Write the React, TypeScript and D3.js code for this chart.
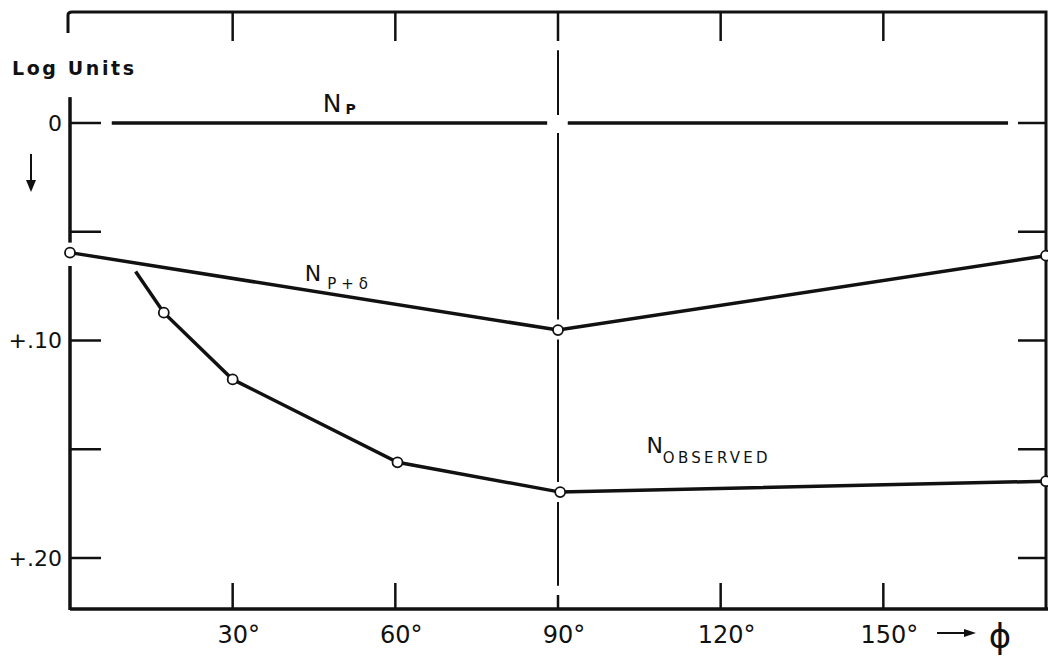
import React from 'react'
import { scaleLinear, line } from 'd3'

// Data (phi in degrees, log units)
const xTicks = [30, 60, 90, 120, 150]
const xTickLabels = ['30°', '60°', '90°', '120°', '150°']
const yTicks = [0, 0.05, 0.1, 0.15, 0.2]
const yTickLabels = ['0', '', '+.10', '', '+.20']

const npValue = 0
const npSegments = [[7.7, 88], [91.8, 173]]

const npdAngles = [0, 90, 180]
const npdValues = [0.0596, 0.0952, 0.061]

const obsAngles = [12.1, 17.3, 30, 60.4, 90.4, 180]
const obsValues = [0.0683, 0.0872, 0.1179, 0.156, 0.1697, 0.1647]
const obsMarked = [false, true, true, true, true, true]

// the broken vertical line at 90 degrees
const dashAngle = 90
const dashSegments = [[-0.0335, -0.0037], [0.0046, 0.0904], [0.0995, 0.1651], [0.1743, 0.2128]]

// left axis is interrupted by the title and by the first circle
const leftAxisSegments = [[-0.0119, 0.055], [0.0657, 0.2225]]

const W = 1048
const H = 659
const top = 12
const bottom = 609
const font = '"DejaVu Sans", sans-serif'

const App = () => {
    const x = scaleLinear().domain([0, 180]).range([70, 1046])
    const y = scaleLinear().domain([0, 0.2]).range([123, 558])

    const lineGen = line<[number, number]>()
        .x(d => x(d[0]))
        .y(d => y(d[1]))

    const npd: [number, number][] = npdAngles.map((a, i) => [a, npdValues[i]])
    const obs: [number, number][] = obsAngles.map((a, i) => [a, obsValues[i]])

    const stroke = '#111'

    return (
        <svg width={W} height={H} style={{ position: 'absolute', left: 0, top: 0, background: '#fff' }}>
            {/* frame */}
            <path d={`M${x(0) - 2},${top + 21} L${x(0) - 2},${top + 3} Q${x(0) - 2},${top} ${x(0) + 2},${top} L${x(180)},${top} L${x(180)},${bottom}`}
                fill="none" stroke={stroke} strokeWidth={3} />
            <line x1={x(0)} x2={x(180) + 2} y1={bottom} y2={bottom} stroke={stroke} strokeWidth={3.5} />
            {leftAxisSegments.map((s, i) => (
                <line key={i} x1={x(0)} x2={x(0)} y1={y(s[0])} y2={i === 1 ? bottom + 1 : y(s[1])} stroke={stroke} strokeWidth={3.5} />
            ))}

            {/* y ticks, both sides */}
            {yTicks.map((t, i) => (
                <g key={i}>
                    <line x1={x(0)} x2={x(0) + 31} y1={y(t)} y2={y(t)} stroke={stroke} strokeWidth={2.5} />
                    <line x1={x(180) - 28} x2={x(180)} y1={y(t)} y2={y(t)} stroke={stroke} strokeWidth={2.5} />
                    <text x={x(0) - 8} y={y(t)} dy="0.36em" textAnchor="end" fontFamily={font} fontSize={22} fill={stroke}>
                        {yTickLabels[i]}
                    </text>
                </g>
            ))}

            {/* x ticks, top and bottom */}
            {xTicks.map((t, i) => (
                <g key={i}>
                    <line x1={x(t)} x2={x(t)} y1={top} y2={top + 29} stroke={stroke} strokeWidth={2.5} />
                    <line x1={x(t)} x2={x(t)} y1={t === dashAngle ? bottom - 14 : bottom - 26} y2={bottom} stroke={stroke} strokeWidth={2.5} />
                    <text x={x(t) + 6} y={643} textAnchor="middle" fontFamily={font} fontSize={24} fill={stroke}>
                        {xTickLabels[i]}
                    </text>
                </g>
            ))}

            {/* broken line at 90 */}
            {dashSegments.map((s, i) => (
                <line key={i} x1={x(dashAngle)} x2={x(dashAngle)} y1={y(s[0])} y2={y(s[1])} stroke={stroke} strokeWidth={2} />
            ))}

            {/* N_p */}
            {npSegments.map((s, i) => (
                <path key={i} d={lineGen(s.map(a => [a, npValue] as [number, number])) || ''} fill="none" stroke={stroke} strokeWidth={3.5} />
            ))}

            {/* N_p+delta */}
            <path d={lineGen(npd) || ''} fill="none" stroke={stroke} strokeWidth={3.5} />
            {/* N observed */}
            <path d={lineGen(obs) || ''} fill="none" stroke={stroke} strokeWidth={3.5} />

            {npd.map((d, i) => (
                <circle key={'a' + i} cx={x(d[0])} cy={y(d[1])} r={5} fill="#fff" stroke={stroke} strokeWidth={1.8} />
            ))}
            {obs.map((d, i) => obsMarked[i] ? (
                <circle key={'b' + i} cx={x(d[0])} cy={y(d[1])} r={5} fill="#fff" stroke={stroke} strokeWidth={1.8} />
            ) : null)}

            {/* labels */}
            <text x={12} y={75} fontFamily={font} fontSize={19} fontWeight="bold" letterSpacing={2.6} fill={stroke}>Log Units</text>

            <line x1={31} x2={31} y1={154} y2={184} stroke={stroke} strokeWidth={2} />
            <path d="M26,180 L36,180 L31,192 Z" fill={stroke} />

            <text x={x(46.6)} y={y(-0.0051)} fontFamily={font} fontSize={25} fill={stroke}>
                N<tspan fontSize={14} fontWeight="bold" dx={4} dy={2}>P</tspan>
            </text>
            <text x={x(43.3)} y={y(0.0726)} fontFamily={font} fontSize={22} fill={stroke}>
                N<tspan fontSize={15} dx={6} dy={8} letterSpacing={5}>P+δ</tspan>
            </text>
            <text x={x(106.3)} y={y(0.1517)} fontFamily={font} fontSize={22} fill={stroke}>
                N<tspan fontSize={15} dy={10} letterSpacing={3.3}>OBSERVED</tspan>
            </text>

            {/* phi arrow */}
            <line x1={937} x2={966} y1={633} y2={633} stroke={stroke} strokeWidth={2} />
            <path d="M964,629 L976,633 L964,637 Z" fill={stroke} />
            <text x={1000} y={648} textAnchor="middle" fontFamily={font} fontSize={34} fill={stroke}>ϕ</text>
        </svg>
    )
}

export default App
